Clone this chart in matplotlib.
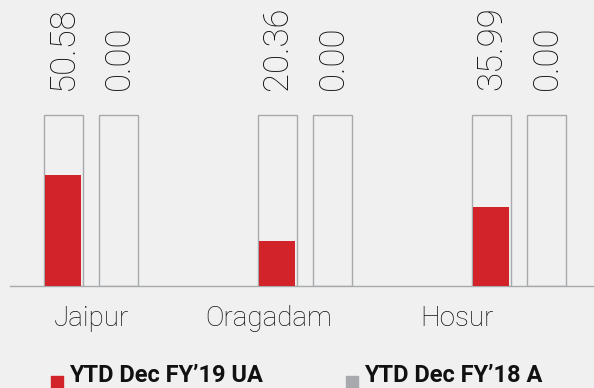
import matplotlib.pyplot as plt
import matplotlib.patches as mpatches
import numpy as np

# Plant-wise figures
plants = ["Jaipur", "Oragadam", "Hosur"]
fy19_ua = [50.58, 20.36, 35.99]
fy18_a = [0.00, 0.00, 0.00]
series_names = ["YTD Dec FY\u201919 UA", "YTD Dec FY\u201918 A"]

# Full-scale value shown by the outline boxes
cap = 78.0

red = "#d2232a"
grey = "#a7a9ac"
bg = "#f0f0f0"

fig = plt.figure(figsize=(5.94, 3.88), dpi=100, facecolor=bg)
ax = fig.add_axes([10 / 594, 102 / 388, 584 / 594, 281 / 388])
ax.set_facecolor(bg)

x = np.arange(len(plants))
off = 0.13
box_w = 0.182
fill_w = 0.168

# outline boxes
for pos in (x - off, x + off):
    ax.bar(pos, [cap] * len(plants), width=box_w, facecolor="none",
           edgecolor=grey, linewidth=1.0, zorder=2)

# value fills
ax.bar(x - off, fy19_ua, width=fill_w, color=red, zorder=3)
ax.bar(x + off, fy18_a, width=fill_w, color=grey, zorder=3)

# rotated value labels above the boxes
num_font = dict(family=["Roboto", "DejaVu Sans"], weight="light", size=25)
for pos, vals in ((x - off, fy19_ua), (x + off, fy18_a)):
    for xi, v in zip(pos, vals):
        ax.annotate(f"{v:.2f}", (xi, cap), xytext=(0, 18),
                    textcoords="offset points", rotation=90,
                    ha="center", va="bottom", color="#111111", **num_font)

ax.set_xlim(-0.379, 2.35)
ax.set_ylim(0, 128.2)
ax.set_yticks([])
ax.set_xticks(x - np.array([0.0, 0.17, 0.29]))
ax.set_xticklabels(plants, family=["Roboto", "DejaVu Sans"], weight="light",
                   size=20, color="#111111")
ax.tick_params(axis="x", length=0, pad=14)
for s in ("top", "left", "right"):
    ax.spines[s].set_visible(False)
ax.spines["bottom"].set_color(grey)
ax.spines["bottom"].set_linewidth(1.0)

# legend drawn by hand along the bottom edge
leg_font = dict(family=["Roboto", "DejaVu Sans"],
                weight="bold", size=17, color="#111111")
for sx, tx, col, name in ((51, 69, red, series_names[0]),
                          (346, 364, grey, series_names[1])):
    fig.patches.append(mpatches.Rectangle((sx / 594, 0), 12 / 594, 12 / 388,
                                          transform=fig.transFigure,
                                          color=col))
    fig.text(tx / 594, 6 / 388, name, va="baseline", ha="left", **leg_font)

fig.savefig("out.png", dpi=100, facecolor=bg)
